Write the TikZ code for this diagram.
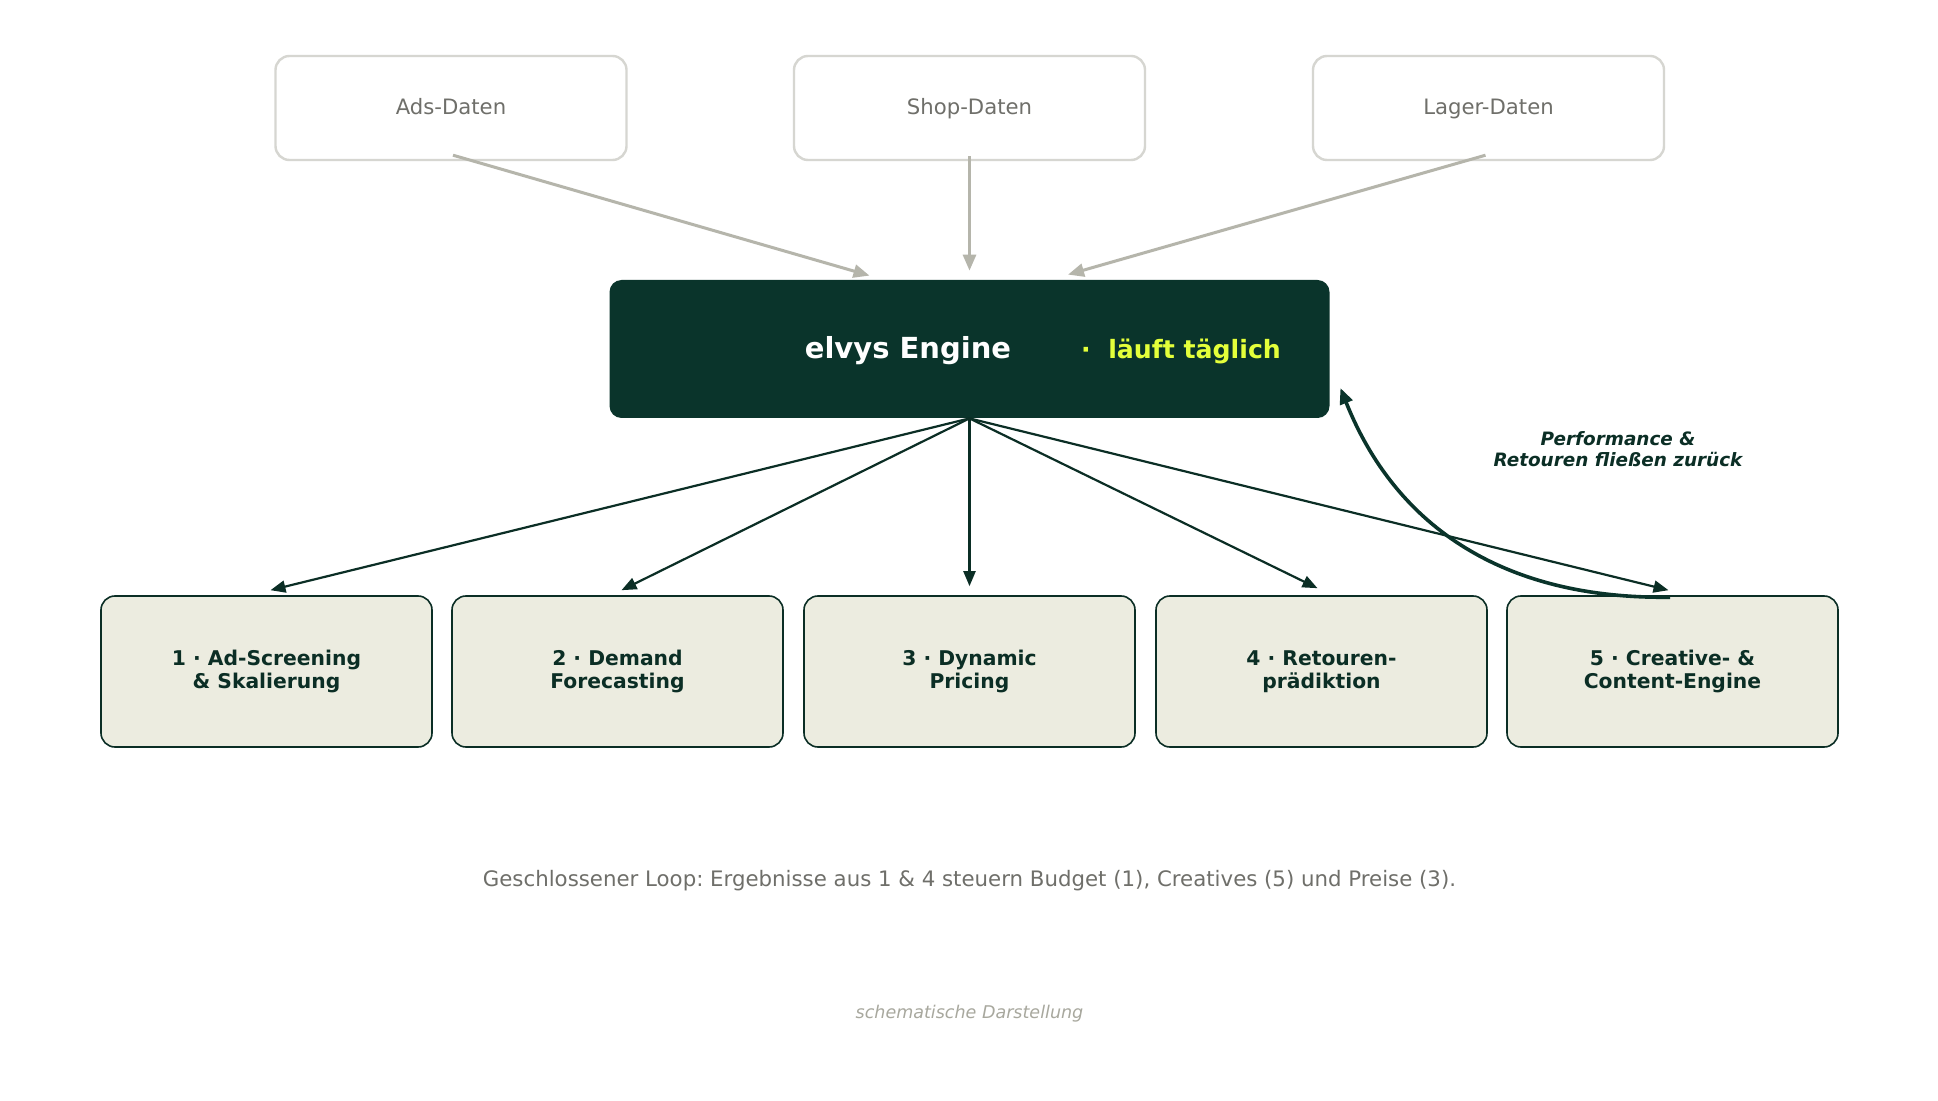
\documentclass[tikz,border=0pt]{standalone}
\usepackage{fontspec}
\setmainfont{DejaVu Sans}
\frenchspacing
\usetikzlibrary{arrows.meta}
\definecolor{deep}{HTML}{0A342B}
\definecolor{ink}{HTML}{0B2E25}
\definecolor{paper}{HTML}{ECECE0}
\definecolor{limey}{HTML}{E4FF3A}
\definecolor{srcline}{HTML}{D6D6D1}
\definecolor{srcarrow}{HTML}{B5B5AB}
\definecolor{muted}{HTML}{6F6F6A}
\definecolor{faint}{HTML}{A8A89E}
\tikzset{
  srcbox/.style={draw=srcline,line width=1.2pt,fill=white,rounded corners=7pt,minimum width=175.5pt,minimum height=52pt,inner sep=0pt,text=muted,text height=8.6pt,text depth=1.6pt,font=\fontsize{10.6}{12}\selectfont},
  engbox/.style={draw=none,fill=deep,rounded corners=6pt,minimum width=360pt,minimum height=69pt,inner sep=0pt},
  stepbox/.style={draw=ink,line width=0.8pt,fill=paper,rounded corners=7pt,minimum width=165.5pt,minimum height=75.5pt,inner sep=0pt,text=ink,align=center,font=\fontsize{10.15}{11.5}\selectfont\bfseries},
  srcarr/.style={draw=srcarrow,line width=1.5pt,-{Triangle[length=8pt,width=6.5pt]}},
  outarr/.style={draw=ink,line width=1.1pt,-{Triangle[length=7.5pt,width=6pt]}},
  backarr/.style={draw=deep,line width=1.8pt,-{Triangle[length=8pt,width=6.5pt]}},
  enginename/.style={anchor=base,inner sep=0pt,text=white,font=\fontsize{14.5}{16}\selectfont\bfseries},
  enginetag/.style={anchor=base,inner sep=0pt,text=limey,font=\fontsize{12.6}{14}\selectfont\bfseries},
  backnote/.style={inner sep=0pt,text=ink,align=center,font=\fontsize{9.2}{10.5}\selectfont\bfseries\itshape},
  caption/.style={inner sep=0pt,anchor=base,text=muted,font=\fontsize{10.65}{12}\selectfont},
  footnote/.style={inner sep=0pt,anchor=base,text=faint,font=\fontsize{8.76}{11}\selectfont\itshape},
}
\begin{document}
\begin{tikzpicture}[x=0.5pt,y=-0.5pt]
\useasboundingbox (0,0) rectangle (1938,1101);
\fill[white] (0,0) rectangle (1938,1101);
\node[srcbox] (ads) at (451,108) {Ads-Daten};
\node[srcbox] (shop) at (969.5,108) {Shop-Daten};
\node[srcbox] (lager) at (1488.5,108) {Lager-Daten};
\node[engbox] (engine) at (969.5,349) {};
\node[enginename] (ename) at (908,358.5) {elvys Engine};
\node[enginetag] (etag) at (1181,358.5) {·\ \ läuft täglich};
\node[stepbox] (s1) at (266.5,671.5) {1 · Ad-Screening\\\& Skalierung};
\node[stepbox] (s2) at (617.5,671.5) {2 · Demand\\Forecasting};
\node[stepbox] (s3) at (969.5,671.5) {3 · Dynamic\\Pricing};
\node[stepbox] (s4) at (1321.5,671.5) {4 · Retouren-\\prädiktion};
\node[stepbox] (s5) at (1672.5,671.5) {5 · Creative- \&\\Content-Engine};
\node[backnote] (note) at (1618,449) {Performance \&\\Retouren fließen zurück};
\node[caption] (cap) at (969.5,886) {Geschlossener Loop: Ergebnisse aus 1 \& 4 steuern Budget (1), Creatives (5) und Preise (3).};
\node[footnote] (foot) at (969.5,1018.5) {schematische Darstellung};
\draw[srcarr] ([shift={(2,-6)}]ads.south) -- ([shift={(-100,-4)}]engine.north);
\draw[srcarr] ([shift={(0,-5)}]shop.south) -- ([shift={(0,-9)}]engine.north);
\draw[srcarr] ([shift={(-3,-6)}]lager.south) -- ([shift={(98.5,-5)}]engine.north);
\draw[outarr] (engine.south) -- ([shift={(4,-5)}]s1.north);
\draw[outarr] (engine.south) -- ([shift={(4,-5)}]s2.north);
\draw[outarr] (engine.south) -- ([shift={(0,-9)}]s3.north);
\draw[outarr] (engine.south) -- ([shift={(-4,-7)}]s4.north);
\draw[outarr] (engine.south) -- ([shift={(-4,-5)}]s5.north);
\draw[backarr] ([shift={(-2.5,2)}]s5.north) .. controls (1506.7,599.3) and (1396.7,529.3) .. ([shift={(10.5,39)}]engine.east);
\end{tikzpicture}
\end{document}
